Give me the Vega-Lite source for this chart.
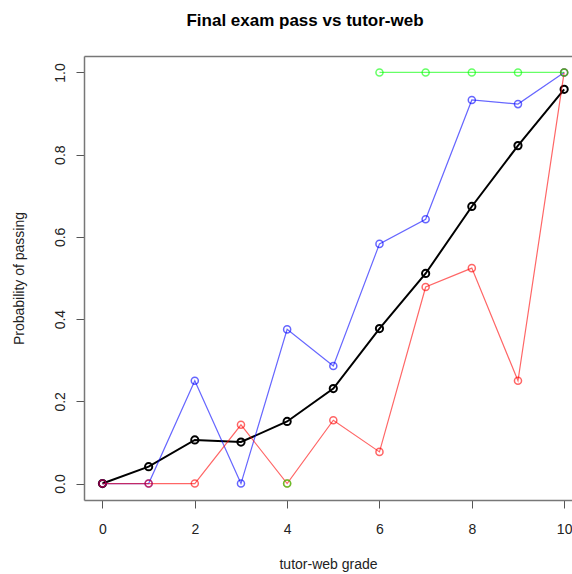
{
  "$schema": "https://vega.github.io/schema/vega-lite/v6.json",
  "width": 488,
  "height": 444,
  "autosize": {"type": "none"},
  "padding": {"left": 84, "top": 56, "right": 0, "bottom": 74},
  "background": "white",
  "config": {
    "view": {"stroke": null},
    "font": "Liberation Sans",
    "axis": {
      "labelFont": "Liberation Sans",
      "labelFontSize": 14,
      "labelColor": "#222",
      "titleFont": "Liberation Sans",
      "titleFontSize": 14,
      "titleFontWeight": "normal",
      "titleColor": "#222",
      "tickColor": "#555",
      "tickSize": 8,
      "tickWidth": 1,
      "domainColor": "#777",
      "domainWidth": 1.5,
      "grid": false,
      "labelFlush": false,
      "labelOverlap": false
    }
  },
  "title": {
    "text": "Final exam pass vs tutor-web",
    "font": "Liberation Sans",
    "fontSize": 17,
    "fontWeight": "bold",
    "color": "#000",
    "anchor": "middle",
    "frame": "group",
    "dx": -23,
    "baseline": "alphabetic",
    "offset": 13
  },
  "data": {
    "values": [
      {"grade": 0, "group": "Overall", "p": 0},
      {"grade": 1, "group": "Overall", "p": 0.041},
      {"grade": 2, "group": "Overall", "p": 0.106},
      {"grade": 3, "group": "Overall", "p": 0.101},
      {"grade": 4, "group": "Overall", "p": 0.151},
      {"grade": 5, "group": "Overall", "p": 0.231},
      {"grade": 6, "group": "Overall", "p": 0.377},
      {"grade": 7, "group": "Overall", "p": 0.511},
      {"grade": 8, "group": "Overall", "p": 0.674},
      {"grade": 9, "group": "Overall", "p": 0.822},
      {"grade": 10, "group": "Overall", "p": 0.959},
      {"grade": 0, "group": "A", "p": 0},
      {"grade": 1, "group": "A", "p": 0},
      {"grade": 2, "group": "A", "p": 0.25},
      {"grade": 3, "group": "A", "p": 0},
      {"grade": 4, "group": "A", "p": 0.375},
      {"grade": 5, "group": "A", "p": 0.286},
      {"grade": 6, "group": "A", "p": 0.583},
      {"grade": 7, "group": "A", "p": 0.643},
      {"grade": 8, "group": "A", "p": 0.933},
      {"grade": 9, "group": "A", "p": 0.923},
      {"grade": 10, "group": "A", "p": 1},
      {"grade": 0, "group": "B", "p": 0},
      {"grade": 1, "group": "B", "p": 0},
      {"grade": 2, "group": "B", "p": 0},
      {"grade": 3, "group": "B", "p": 0.143},
      {"grade": 4, "group": "B", "p": 0},
      {"grade": 5, "group": "B", "p": 0.154},
      {"grade": 6, "group": "B", "p": 0.077},
      {"grade": 7, "group": "B", "p": 0.478},
      {"grade": 8, "group": "B", "p": 0.524},
      {"grade": 9, "group": "B", "p": 0.25},
      {"grade": 10, "group": "B", "p": 1},
      {"grade": 4, "group": "C", "p": 0},
      {"grade": 5, "group": "C", "p": null},
      {"grade": 6, "group": "C", "p": 1},
      {"grade": 7, "group": "C", "p": 1},
      {"grade": 8, "group": "C", "p": 1},
      {"grade": 9, "group": "C", "p": 1},
      {"grade": 10, "group": "C", "p": 1}
    ]
  },
  "encoding": {
    "y": {
      "field": "p",
      "type": "quantitative",
      "scale": {"domain": [-0.04, 1.04], "nice": false, "zero": false},
      "axis": {
        "values": [0, 0.2, 0.4, 0.6, 0.8, 1],
        "format": ".1f",
        "labelAngle": -90,
        "labelAlign": "center",
        "labelBaseline": "bottom",
        "labelPadding": 9,
        "title": "Probability of passing",
        "titlePadding": 27
      }
    }
  },
  "layer": [
    {
      "transform": [{"filter": "datum.group === 'Overall'"}],
      "mark": {"type": "line", "color": "#000", "strokeWidth": 2, "invalid": "break-paths-filter-domains"},
      "encoding": {
        "x": {
          "field": "grade",
          "type": "quantitative",
          "scale": {"domain": [-0.4, 10.17], "nice": false, "zero": false},
          "axis": {
            "orient": "bottom",
            "values": [0, 2, 4, 6, 8, 10],
            "title": "tutor-web grade",
            "labelPadding": 14,
            "titlePadding": 21
          }
        }
      }
    },
    {
      "transform": [{"filter": "datum.group === 'Overall'"}],
      "mark": {"type": "point", "shape": "circle", "filled": false, "color": "#000", "strokeWidth": 2, "size": 52, "opacity": 1},
      "encoding": {
        "x": {
          "field": "grade",
          "type": "quantitative",
          "axis": {"orient": "top", "labels": false, "ticks": false, "title": null, "domain": true}
        }
      }
    },
    {
      "transform": [{"filter": "datum.group !== 'Overall'"}],
      "mark": {"type": "line", "strokeWidth": 1.2, "opacity": 0.6, "invalid": "break-paths-filter-domains"},
      "encoding": {
        "x": {"field": "grade", "type": "quantitative", "axis": null},
        "color": {
          "field": "group",
          "type": "nominal",
          "scale": {"domain": ["A", "B", "C"], "range": ["#0000ff", "#ff0000", "#00ff00"]},
          "legend": null
        }
      }
    },
    {
      "transform": [{"filter": "datum.group !== 'Overall' && datum.p !== null"}],
      "mark": {"type": "point", "shape": "circle", "filled": false, "strokeWidth": 1.5, "size": 50, "opacity": 0.6},
      "encoding": {
        "x": {"field": "grade", "type": "quantitative", "axis": null},
        "color": {
          "field": "group",
          "type": "nominal",
          "scale": {"domain": ["A", "B", "C"], "range": ["#0000ff", "#ff0000", "#00ff00"]},
          "legend": null
        }
      }
    }
  ],
  "resolve": {"axis": {"x": "independent"}}
}
